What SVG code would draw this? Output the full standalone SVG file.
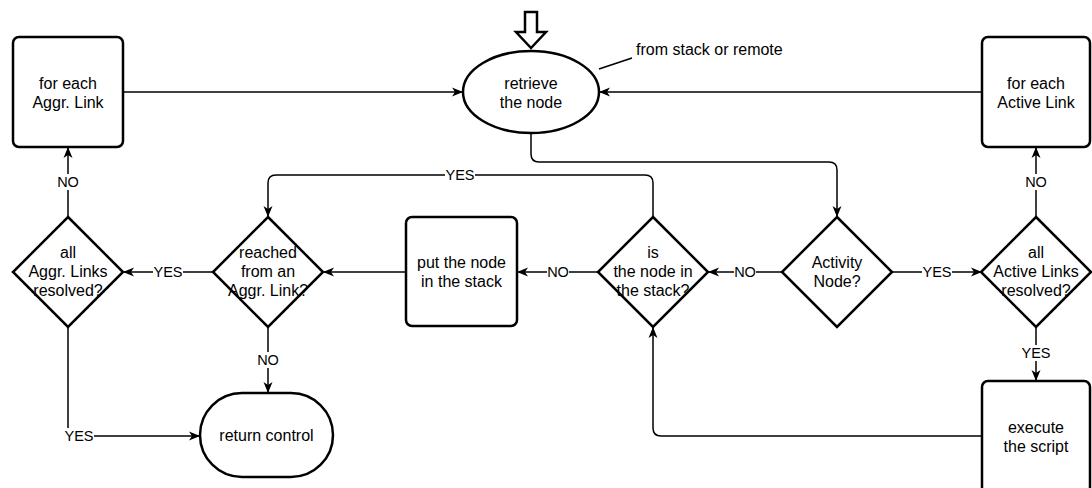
<svg xmlns="http://www.w3.org/2000/svg" width="1092" height="488" viewBox="0 0 1092 488">
<style>
.shape{fill:#fff;stroke:#000;stroke-width:2.5}
.conn{fill:none;stroke:#000;stroke-width:1.5}
.bg{fill:#fff}
text{font-family:"Liberation Sans",Arial,sans-serif;fill:#000}
.t{font-size:16px;text-anchor:middle}
.lbl{font-size:14.5px;text-anchor:middle}
</style>
<defs>
<marker id="arr" markerUnits="userSpaceOnUse" markerWidth="12" markerHeight="10" refX="11" refY="5" orient="auto">
<path d="M0,0.5 L11,5 L0,9.5 L3,5 Z" fill="#000"/>
</marker>
</defs>
<rect width="1092" height="488" fill="#fff"/>
<g id="connectors">
<path class="conn" d="M123,92 H463" marker-end="url(#arr)"/>
<path class="conn" d="M982,92 H599" marker-end="url(#arr)"/>
<path class="conn" d="M531,133 V154 Q531,162 539,162 H829 Q837,162 837,170 V217" marker-end="url(#arr)"/>
<path class="conn" d="M783,272 H708" marker-end="url(#arr)"/>
<path class="conn" d="M892,272 H982" marker-end="url(#arr)"/>
<path class="conn" d="M1036,217 V147" marker-end="url(#arr)"/>
<path class="conn" d="M1036,327 V381" marker-end="url(#arr)"/>
<path class="conn" d="M982,436 H661 Q653,436 653,428 V327" marker-end="url(#arr)"/>
<path class="conn" d="M598,272 H517" marker-end="url(#arr)"/>
<path class="conn" d="M653,217 V183 Q653,175 645,175 H276 Q268,175 268,183 V217" marker-end="url(#arr)"/>
<path class="conn" d="M406,272 H323" marker-end="url(#arr)"/>
<path class="conn" d="M213,272 H123" marker-end="url(#arr)"/>
<path class="conn" d="M68,217 V147" marker-end="url(#arr)"/>
<path class="conn" d="M268,327 V393" marker-end="url(#arr)"/>
<path class="conn" d="M68,327 V436 H200" marker-end="url(#arr)"/>
<path class="conn" d="M599,69 L632,58"/>
<rect class="bg" x="57" y="174" width="22" height="16"/>
<text class="lbl" x="68" y="187">NO</text>
<rect class="bg" x="1025" y="174" width="22" height="16"/>
<text class="lbl" x="1036" y="187">NO</text>
<rect class="bg" x="153" y="264" width="30" height="16"/>
<text class="lbl" x="168" y="277">YES</text>
<rect class="bg" x="547" y="264" width="22" height="16"/>
<text class="lbl" x="558" y="277">NO</text>
<rect class="bg" x="734" y="264" width="22" height="16"/>
<text class="lbl" x="745" y="277">NO</text>
<rect class="bg" x="922" y="264" width="30" height="16"/>
<text class="lbl" x="937" y="277">YES</text>
<rect class="bg" x="445" y="167" width="30" height="16"/>
<text class="lbl" x="460" y="180">YES</text>
<rect class="bg" x="257" y="352" width="22" height="16"/>
<text class="lbl" x="268" y="365">NO</text>
<rect class="bg" x="1021" y="345" width="30" height="16"/>
<text class="lbl" x="1036" y="358">YES</text>
<rect class="bg" x="64" y="428" width="30" height="16"/>
<text class="lbl" x="79" y="441">YES</text>
</g>
<g id="start-arrow">
<path d="M525,12 H537 V32 H546 L531,48 L516,32 H525 Z" fill="#fff" stroke="#000" stroke-width="2.5" stroke-linejoin="miter"/>
</g>
<g id="note">
<text x="636" y="55" style="font-size:16px">from stack or remote</text>
</g>
<g id="node-aggr-loop">
<rect class="shape" x="13" y="37" width="110" height="110" rx="6"/>
<text class="t" x="68" y="89">for each</text>
<text class="t" x="68" y="108">Aggr. Link</text>
</g>
<g id="node-retrieve">
<ellipse class="shape" cx="531" cy="92" rx="68" ry="41"/>
<text class="t" x="531" y="89">retrieve</text>
<text class="t" x="531" y="108">the node</text>
</g>
<g id="node-active-loop">
<rect class="shape" x="982" y="37" width="108" height="110" rx="6"/>
<text class="t" x="1036" y="89">for each</text>
<text class="t" x="1036" y="108">Active Link</text>
</g>
<g id="node-activity">
<path class="shape" d="M837,217 L892,272 L837,327 L782,272 Z"/>
<text class="t" x="837" y="268">Activity</text>
<text class="t" x="837" y="287">Node?</text>
</g>
<g id="node-active-resolved">
<path class="shape" d="M1036,217 L1091,272 L1036,327 L981,272 Z"/>
<text class="t" x="1036" y="258">all</text>
<text class="t" x="1036" y="277">Active Links</text>
<text class="t" x="1036" y="296">resolved?</text>
</g>
<g id="node-execute">
<rect class="shape" x="982" y="381" width="108" height="112" rx="6"/>
<text class="t" x="1036" y="433">execute</text>
<text class="t" x="1036" y="452">the script</text>
</g>
<g id="node-in-stack">
<path class="shape" d="M653,217 L708,272 L653,327 L598,272 Z"/>
<text class="t" x="653" y="258">is</text>
<text class="t" x="653" y="277">the node in</text>
<text class="t" x="653" y="296">the stack?</text>
</g>
<g id="node-put">
<rect class="shape" x="406" y="217" width="111" height="109" rx="6"/>
<text class="t" x="461.5" y="268">put the node</text>
<text class="t" x="461.5" y="287">in the stack</text>
</g>
<g id="node-reached">
<path class="shape" d="M268,217 L323,272 L268,327 L213,272 Z"/>
<text class="t" x="268" y="258">reached</text>
<text class="t" x="268" y="277">from an</text>
<text class="t" x="268" y="296">Aggr. Link?</text>
</g>
<g id="node-aggr-resolved">
<path class="shape" d="M68,217 L123,272 L68,327 L13,272 Z"/>
<text class="t" x="68" y="258">all</text>
<text class="t" x="68" y="277">Aggr. Links</text>
<text class="t" x="68" y="296">resolved?</text>
</g>
<g id="node-return">
<rect class="shape" x="200" y="393" width="133" height="84" rx="42"/>
<text class="t" x="266.5" y="441">return control</text>
</g>
</svg>
